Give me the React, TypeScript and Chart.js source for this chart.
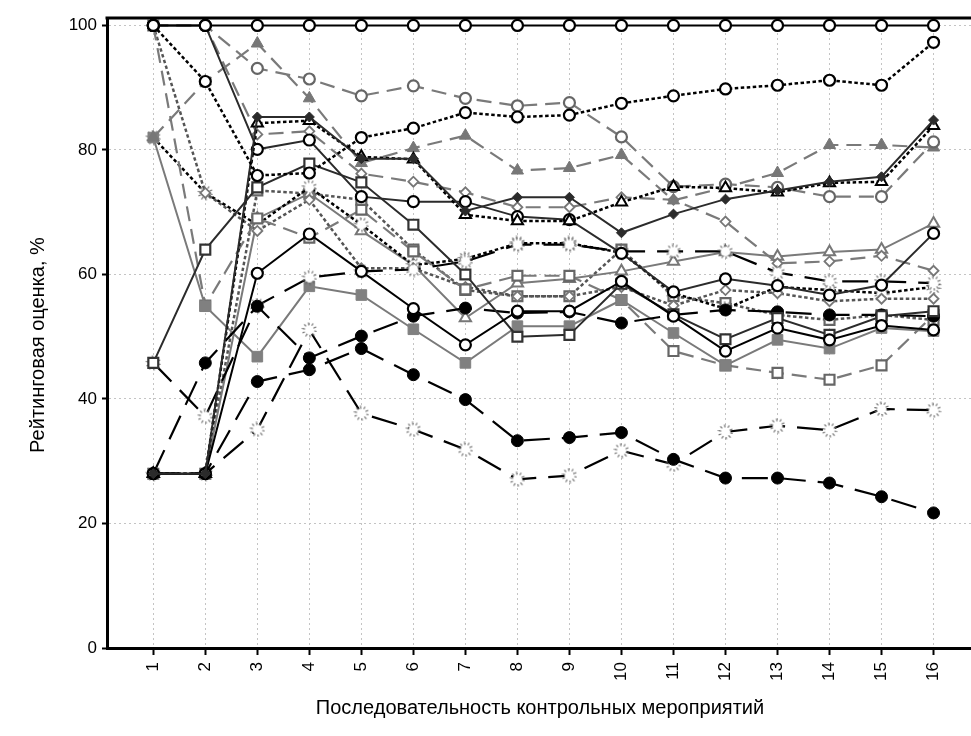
import React, { useEffect, useRef } from 'react';
import { Chart, registerables } from 'chart.js';

Chart.register(...registerables);

// Control events along the x axis and rating ticks along the y axis
const categories = [1, 2, 3, 4, 5, 6, 7, 8, 9, 10, 11, 12, 13, 14, 15, 16];
const yTicks = [0, 20, 40, 60, 80, 100];

// Rating trajectories, %
const sA = [100, 100, 100, 100, 100, 100, 100, 100, 100, 100, 100, 100, 100, 100, 100, 100];
const sB = [100, 91, 75.9, 76.3, 82, 83.5, 86, 85.3, 85.6, 87.5, 88.7, 89.8, 90.4, 91.2, 90.4, 97.3];
const sC = [100, 100, 93.1, 91.4, 88.7, 90.3, 88.3, 87.1, 87.6, 82.1, 74.1, 74.5, 74, 72.5, 72.5, 81.3];
const sD = [82, 91, 97.1, 88.3, 77.9, 80.3, 82.3, 76.7, 77.1, 79.2, 71.9, 74, 76.3, 80.8, 80.8, 80.4];
const sE = [28, 28, 85.3, 85.3, 78.6, 78.6, 70.2, 72.4, 72.4, 66.7, 69.7, 72.1, 73.5, 74.9, 75.7, 84.8];
const sF = [28, 28, 84.3, 84.7, 78.9, 78.5, 69.6, 68.6, 68.6, 71.6, 74.1, 73.9, 73.2, 74.7, 74.9, 83.9];
const sG = [100, 100, 80.1, 81.6, 72.5, 71.7, 71.7, 69.3, 68.8, 63.4, 57.2, 59.3, 58.2, 56.7, 58.3, 66.6];
const sH = [45.8, 64, 74, 77.8, 74.8, 68, 60, 50, 50.3, 58.5, 53.6, 49.6, 53, 50.3, 53.3, 54.1];
const sI = [28, 28, 60.2, 66.5, 60.5, 54.5, 48.7, 54.1, 54.1, 58.9, 53.3, 47.7, 51.4, 49.5, 51.8, 51.1];
const sJ = [28, 28, 42.8, 44.7, 48.1, 43.9, 39.9, 33.3, 33.8, 34.6, 30.3, 27.3, 27.3, 26.5, 24.3, 21.7];
const sK = [28, 28, 35.1, 51.1, 37.7, 35.1, 31.9, 27.1, 27.7, 31.7, 29.5, 34.7, 35.7, 35, 38.4, 38.2];
const sL = [28, 45.8, 54.9, 46.6, 50.1, 53.3, 54.6, 53.8, 54, 52.2, 53.5, 54.3, 54, 53.5, 53.5, 53.3];
const sM = [45.8, 37.2, 55, 59.5, 60.5, 60.8, 62.1, 64.8, 64.8, 63.7, 63.7, 63.7, 60.3, 58.9, 58.9, 58.6];
const sN = [82, 54.9, 46.8, 58.1, 56.7, 51.2, 45.8, 51.7, 51.7, 55.9, 50.6, 45.4, 49.5, 48.1, 51.4, 50.9];
const sO = [100, 55, 69, 65.9, 70.4, 63.7, 57.6, 59.8, 59.8, 55.9, 47.7, 45.4, 44.2, 43.1, 45.4, 53.5];
const sP = [100, 100, 82.5, 83, 76.2, 74.9, 73.2, 70.8, 70.8, 72.4, 72, 68.5, 61.8, 62.1, 63, 60.6];
const sQ = [100, 73.1, 67, 72, 61, 61, 58, 56.5, 56.5, 58, 55, 57.5, 57, 55.7, 56.1, 56.1];
const sR = [82, 73.1, 68, 74, 68, 61.5, 62.5, 65, 65, 63.5, 57, 54.5, 58, 57.5, 57, 58];
const sS = [28, 28, 69, 73, 67, 61.5, 53, 58.6, 59.3, 60.5, 62.1, 63.6, 62.9, 63.6, 64, 68.2];
const sT = [28, 28, 73.5, 73, 72, 64, 57.5, 56.5, 56.5, 64, 56.5, 55.4, 53.5, 52.7, 53.5, 52.7];

const FONT = "'Liberation Sans', Arial, sans-serif";

const LINE: Record<string, any> = {
  solidBlack: { borderColor: '#000', borderWidth: 2, borderDash: [] },
  solidDark: { borderColor: '#2b2b2b', borderWidth: 2, borderDash: [] },
  solidGray: { borderColor: '#7a7a7a', borderWidth: 2, borderDash: [] },
  dotBlack: { borderColor: '#000', borderWidth: 2.5, borderDash: [3.5, 2.5] },
  dotGray: { borderColor: '#555', borderWidth: 2.5, borderDash: [3.5, 2.5] },
  dashGray: { borderColor: '#7a7a7a', borderWidth: 2.2, borderDash: [15, 8] },
  dashBlack: { borderColor: '#000', borderWidth: 2.2, borderDash: [26, 12] },
};

// Small white "sun" marker with a ragged grey rim
function makeSun(): HTMLCanvasElement {
  const c = document.createElement('canvas');
  c.width = 16;
  c.height = 16;
  const g = c.getContext('2d')!;
  g.fillStyle = '#fff';
  g.beginPath();
  g.arc(8, 8, 5, 0, Math.PI * 2);
  g.fill();
  g.strokeStyle = '#666';
  g.lineWidth = 1.1;
  for (let k = 0; k < 10; k++) {
    const a = (k / 10) * Math.PI * 2 + 0.2;
    const r1 = k % 2 ? 4.5 : 5;
    g.beginPath();
    g.moveTo(8 + Math.cos(a) * r1, 8 + Math.sin(a) * r1);
    g.lineTo(8 + Math.cos(a) * 7.5, 8 + Math.sin(a) * 7.5);
    g.stroke();
  }
  return c;
}

function marker(kind: string, sun: HTMLCanvasElement) {
  switch (kind) {
    case 'openCircle':
      return { pointStyle: 'circle', pointRadius: 5.5, pointBackgroundColor: '#fff', pointBorderColor: '#000', pointBorderWidth: 2.2 };
    case 'openCircleGray':
      return { pointStyle: 'circle', pointRadius: 5.5, pointBackgroundColor: '#fff', pointBorderColor: '#666', pointBorderWidth: 2.2 };
    case 'dot':
      return { pointStyle: 'circle', pointRadius: 6, pointBackgroundColor: '#000', pointBorderColor: '#000', pointBorderWidth: 1 };
    case 'openSquare':
      return { pointStyle: 'rect', pointRadius: 7, pointBackgroundColor: '#fff', pointBorderColor: '#333', pointBorderWidth: 2.2 };
    case 'openSquareGray':
      return { pointStyle: 'rect', pointRadius: 7, pointBackgroundColor: '#fff', pointBorderColor: '#666', pointBorderWidth: 2.2 };
    case 'graySquare':
      return { pointStyle: 'rect', pointRadius: 7.5, pointBackgroundColor: '#808080', pointBorderColor: '#808080', pointBorderWidth: 1 };
    case 'openTriangle':
      return { pointStyle: 'triangle', pointRadius: 6.5, pointBackgroundColor: '#fff', pointBorderColor: '#000', pointBorderWidth: 2 };
    case 'openTriangleGray':
      return { pointStyle: 'triangle', pointRadius: 6.5, pointBackgroundColor: '#fff', pointBorderColor: '#777', pointBorderWidth: 2 };
    case 'grayTriangle':
      return { pointStyle: 'triangle', pointRadius: 7, pointBackgroundColor: '#777', pointBorderColor: '#777', pointBorderWidth: 1 };
    case 'darkDiamond':
      return { pointStyle: 'rectRot', pointRadius: 5, pointBackgroundColor: '#2b2b2b', pointBorderColor: '#2b2b2b', pointBorderWidth: 1 };
    case 'openDiamond':
      return { pointStyle: 'rectRot', pointRadius: 5, pointBackgroundColor: '#fff', pointBorderColor: '#777', pointBorderWidth: 1.8 };
    case 'sun':
    default:
      return { pointStyle: sun, pointRadius: 8 };
  }
}

const SERIES: [number[], string, string][] = [
  [sA, 'solidBlack', 'openCircle'],
  [sB, 'dotBlack', 'openCircle'],
  [sE, 'solidDark', 'darkDiamond'],
  [sF, 'dotBlack', 'openTriangle'],
  [sG, 'solidDark', 'openCircle'],
  [sI, 'solidBlack', 'openCircle'],
  [sH, 'solidDark', 'openSquare'],
  [sJ, 'dashBlack', 'dot'],
  [sK, 'dashBlack', 'sun'],
  [sL, 'dashBlack', 'dot'],
  [sM, 'dashBlack', 'sun'],
  [sC, 'dashGray', 'openCircleGray'],
  [sD, 'dashGray', 'grayTriangle'],
  [sN, 'solidGray', 'graySquare'],
  [sO, 'dashGray', 'openSquareGray'],
  [sP, 'dashGray', 'openDiamond'],
  [sQ, 'dotGray', 'openDiamond'],
  [sR, 'dotBlack', 'sun'],
  [sS, 'solidGray', 'openTriangleGray'],
  [sT, 'dotGray', 'openSquareGray'],
];

// Let the plot run right up to the canvas edge, then draw the top rule and axis titles
const framePlugin = {
  id: 'frame',
  afterLayout(chart: any) {
    const area = chart.chartArea;
    const xs = chart.scales.x;
    area.right = chart.width;
    area.width = area.right - area.left;
    xs.right = chart.width;
    xs.width = xs.right - xs.left;
    xs.configure();
  },
  afterDraw(chart: any) {
    const { ctx, chartArea } = chart;
    ctx.save();
    ctx.strokeStyle = '#000';
    ctx.lineWidth = 3;
    ctx.beginPath();
    ctx.moveTo(chartArea.left - 1.5, chartArea.top);
    ctx.lineTo(chartArea.right, chartArea.top);
    ctx.stroke();

    ctx.fillStyle = '#000';
    ctx.font = `20px ${FONT}`;
    ctx.textAlign = 'center';
    ctx.textBaseline = 'middle';
    ctx.fillText('Последовательность контрольных мероприятий', 540, 708);
    ctx.translate(38, 345);
    ctx.rotate(-Math.PI / 2);
    ctx.fillText('Рейтинговая оценка, %', 0, 0);
    ctx.restore();
  },
};

export default function App() {
  const ref = useRef<HTMLCanvasElement>(null);

  useEffect(() => {
    document.body.style.margin = '0';
    document.body.style.overflow = 'hidden';
    const sun = makeSun();
    const datasets = SERIES.map(([vals, line, mk]) => ({
      data: vals.map((v, i) => ({ x: categories[i], y: v })),
      fill: false,
      tension: 0,
      ...LINE[line],
      ...marker(mk, sun),
    }));

    const chart = new Chart(ref.current!, {
      type: 'line',
      data: { datasets },
      options: {
        animation: false,
        responsive: false,
        events: [],
        layout: { padding: { top: 18, right: 0, left: 0, bottom: 0 } },
        plugins: { legend: { display: false }, tooltip: { enabled: false } },
        scales: {
          x: {
            type: 'linear',
            min: 0.11,
            max: 16.72,
            afterBuildTicks: (s: any) => {
              s.ticks = categories.map((v) => ({ value: v }));
            },
            afterFit: (s: any) => {
              s.height = 88;
            },
            ticks: {
              autoSkip: false,
              minRotation: 90,
              maxRotation: 90,
              padding: 7,
              color: '#000',
              font: { family: FONT, size: 17 },
              callback: (v: any) => String(v),
            },
            grid: { color: '#c4c4c4', lineWidth: 1, tickColor: '#000', tickLength: 7, tickWidth: 2 },
            border: { display: true, color: '#000', width: 3, dash: [2, 3] },
          },
          y: {
            type: 'linear',
            min: 0,
            max: 101.2,
            afterBuildTicks: (s: any) => {
              s.ticks = yTicks.map((v) => ({ value: v }));
            },
            afterFit: (s: any) => {
              s.width = 107;
            },
            ticks: {
              padding: 5,
              color: '#000',
              font: { family: FONT, size: 17 },
            },
            grid: { color: '#c4c4c4', lineWidth: 1, tickColor: '#000', tickLength: 5, tickWidth: 2 },
            border: { display: true, color: '#000', width: 3, dash: [2, 3] },
          },
        },
      },
      plugins: [framePlugin],
    } as any);

    return () => chart.destroy();
  }, []);

  return <canvas ref={ref} width={971} height={736} style={{ display: 'block' }} />;
}
